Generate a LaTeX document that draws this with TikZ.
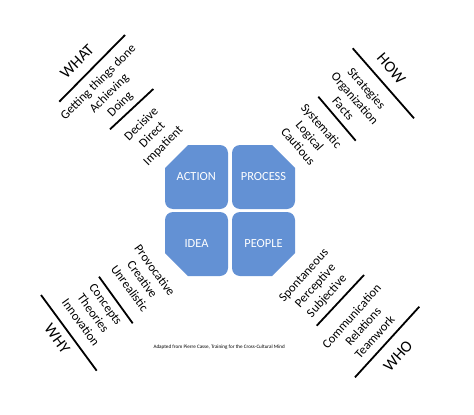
\documentclass[tikz,border=0pt]{standalone}
\usepackage{fontspec}
\setmainfont{Carlito}
\definecolor{boxblue}{RGB}{99,145,212}
\begin{document}
\begin{tikzpicture}[x=1pt,y=-1pt,
  body/.style={align=center, font=\fontsize{12.6}{15.5}\selectfont, inner sep=0pt},
  head/.style={font=\fontsize{16}{19}\selectfont, inner sep=0pt},
  rule/.style={line width=1.8pt},
  quad/.style={fill=boxblue},
  qlabel/.style={text=white, font=\fontsize{12.4}{15}\selectfont, inner sep=0pt},
  caption/.style={font=\fontsize{5.1}{6}\selectfont, inner sep=0pt}]
\useasboundingbox (0,0) rectangle (474,415);
\def\r{8}\def\c{23}
% ACTION (cut top-left)
\fill[quad] (165+\c,145) -- (228-\r,145) arc[start angle=-90,end angle=0,radius=\r]
  -- (228,209-\r) arc[start angle=0,end angle=90,radius=\r]
  -- (165+\r,209) arc[start angle=90,end angle=180,radius=\r]
  -- (165,145+\c) -- cycle;
% PROCESS (cut top-right)
\fill[quad] (232+\r,145) -- (295-\c,145) -- (295,145+\c)
  -- (295,209-\r) arc[start angle=0,end angle=90,radius=\r]
  -- (232+\r,209) arc[start angle=90,end angle=180,radius=\r]
  -- (232,145+\r) arc[start angle=180,end angle=270,radius=\r] -- cycle;
% IDEA (cut bottom-left)
\fill[quad] (165+\r,212) -- (228-\r,212) arc[start angle=-90,end angle=0,radius=\r]
  -- (228,276-\r) arc[start angle=0,end angle=90,radius=\r]
  -- (165+\c,276) -- (165,276-\c)
  -- (165,212+\r) arc[start angle=180,end angle=270,radius=\r] -- cycle;
% PEOPLE (cut bottom-right)
\fill[quad] (232+\r,212) -- (295-\r,212) arc[start angle=-90,end angle=0,radius=\r]
  -- (295,276-\c) -- (295-\c,276)
  -- (232+\r,276) arc[start angle=90,end angle=180,radius=\r]
  -- (232,212+\r) arc[start angle=180,end angle=270,radius=\r] -- cycle;

\node[qlabel] (action) at (196.3,177) {ACTION};
\node[qlabel] (process) at (263.5,177) {PROCESS};
\node[qlabel] (idea) at (196.5,244) {IDEA};
\node[qlabel] (people) at (263.5,244) {PEOPLE};

% WHAT
\node[head, rotate=45] (what) at (77,61.3) {WHAT};
\coordinate (what1a) at (59.3,101.7); \coordinate (what1b) at (125,35);
\draw[rule] (what1a) -- (what1b);
\node[body, rotate=45] (whatA) at (109.5,93.5) {Getting things done\\Achieving\\Doing};
\coordinate (what2a) at (110,129.3); \coordinate (what2b) at (153.3,89);
\draw[rule] (what2a) -- (what2b);
\node[body, rotate=45] (whatB) at (152.5,135.2) {Decisive\\Direct\\Impatient};

% HOW
\node[head, rotate=-49] (how) at (391.3,68.5) {HOW};
\coordinate (how1a) at (352.7,48.3); \coordinate (how1b) at (414,118.3);
\draw[rule] (how1a) -- (how1b);
\node[body, rotate=-49] (howA) at (355,98.4) {Strategies\\Organization\\Facts};
\coordinate (how2a) at (318.3,96.7); \coordinate (how2b) at (355.7,140.7);
\draw[rule] (how2a) -- (how2b);
\node[body, rotate=-49] (howB) at (309.9,136) {Systematic\\Logical\\Cautious};

% WHY
\node[body, rotate=-54] (whyA) at (142.4,279.3) {Provocative\\Creative\\Unrealistic};
\coordinate (why2a) at (99,276.7); \coordinate (why2b) at (132.7,323.3);
\draw[rule] (why2a) -- (why2b);
\node[body, rotate=-54] (whyB) at (93.2,313.4) {Concepts\\Theories\\Innovation};
\coordinate (why1a) at (41,295); \coordinate (why1b) at (96.7,370.7);
\draw[rule] (why1a) -- (why1b);
\node[head, rotate=-54] (why) at (57.2,338.5) {WHY};

% WHO
\node[body, rotate=48] (whoA) at (315.8,286.2) {Spontaneous\\Perceptive\\Subjective};
\coordinate (who2a) at (316.7,325.7); \coordinate (who2b) at (364,275);
\draw[rule] (who2a) -- (who2b);
\node[body, rotate=48] (whoB) at (363,326.4) {Communication\\Relations\\Teamwork};
\coordinate (who1a) at (355,377.3); \coordinate (who1b) at (419.3,306.7);
\draw[rule] (who1a) -- (who1b);
\node[head, rotate=48] (who) at (398,356) {WHO};

\node[caption] (credit) at (219.2,346.7) {Adapted from Pierre Casse, Training for the Cross-Cultural Mind};
\end{tikzpicture}
\end{document}
